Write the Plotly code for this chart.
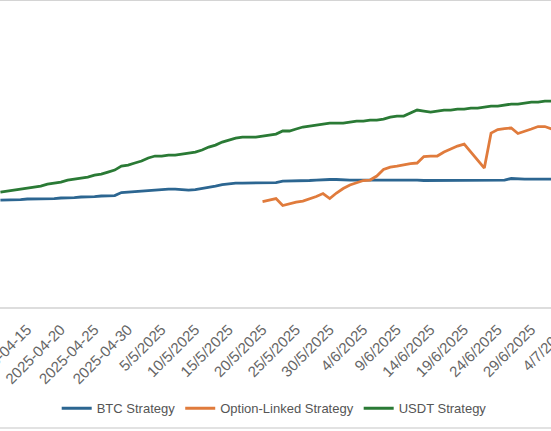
import pandas as pd
import plotly.graph_objects as go

# daily dates of the chart
dates = pd.date_range("2025-04-10", "2025-07-05", freq="D")

# cumulative return (%)
btc = [-0.07, -0.07, -0.07, 0.00, 0.07, 0.07, 0.07, 0.07, 0.13, 0.20,
       0.20, 0.26, 0.33, 0.33, 0.39, 0.46, 0.46, 0.52, 0.91, 0.98,
       1.04, 1.11, 1.11, 1.24, 1.30, 1.37, 1.37, 1.30, 1.24, 1.30,
       1.43, 1.63, 1.76, 1.95, 2.08, 2.15, 2.15, 2.15, 2.15, 2.15,
       2.15, 2.21, 2.41, 2.41, 2.41, 2.48, 2.48, 2.54, 2.61, 2.61,
       2.61, 2.54, 2.54, 2.54, 2.54, 2.61, 2.54, 2.54, 2.58, 2.54,
       2.54, 2.54, 2.54, 2.48, 2.48, 2.54, 2.54, 2.54, 2.54, 2.54,
       2.54, 2.54, 2.54, 2.54, 2.54, 2.54, 2.74, 2.67, 2.67, 2.67,
       2.67, 2.67, 2.67, 2.67, 2.67, 2.67, 2.67]

option = [None] * 39 + [
    -0.26, -0.07, 0.13, -0.78, -0.52, -0.33, -0.20, 0.07, 0.39, 0.78,
    0.13, 0.85, 1.43, 1.89, 2.21, 2.48, 2.54, 3.06, 3.91, 4.23,
    4.36, 4.56, 4.69, 4.76, 5.60, 5.67, 5.67, 6.19, 6.58, 6.97,
    7.23, None, None, 4.10, 8.66, 9.12, 9.25, 9.32, 8.60, 8.86,
    9.19, 9.51, 9.51, 9.19, 9.06, 8.93, 9.06, 9.19]

usdt = [0.98, 1.11, 1.24, 1.37, 1.50, 1.63, 1.76, 2.02, 2.15, 2.28,
        2.54, 2.67, 2.80, 2.93, 3.19, 3.32, 3.58, 3.84, 4.36, 4.50,
        4.76, 5.02, 5.41, 5.67, 5.67, 5.80, 5.80, 5.93, 6.06, 6.19,
        6.45, 6.84, 7.10, 7.49, 7.75, 8.01, 8.14, 8.14, 8.14, 8.27,
        8.40, 8.53, 8.93, 8.93, 9.19, 9.45, 9.58, 9.71, 9.84, 9.97,
        9.97, 9.97, 10.10, 10.23, 10.23, 10.36, 10.36, 10.49, 10.75, 10.88,
        10.88, 11.27, 11.66, 11.53, 11.40, 11.53, 11.66, 11.66, 11.79, 11.79,
        11.92, 11.92, 12.05, 12.18, 12.18, 12.31, 12.44, 12.44, 12.57, 12.70,
        12.70, 12.83, 12.83, 12.96, 12.96, 13.09, 13.09]

tick_dates = pd.date_range("2025-04-15", "2025-07-04", freq="5D")
tick_labels = ["2025-04-15", "2025-04-20", "2025-04-25", "2025-04-30",
               "5/5/2025", "10/5/2025", "15/5/2025", "20/5/2025", "25/5/2025",
               "30/5/2025", "4/6/2025", "9/6/2025", "14/6/2025", "19/6/2025",
               "24/6/2025", "29/6/2025", "4/7/2025"]

series = [
    ("BTC Strategy", btc, "#2c6691"),
    ("Option-Linked Strategy", option, "#e07b3c"),
    ("USDT Strategy", usdt, "#2a7a35"),
]

fig = go.Figure()
for name, vals, color in series:
    fig.add_trace(go.Scatter(
        x=dates, y=vals, name=name, mode="lines", connectgaps=True,
        line=dict(color=color, width=2.8),
    ))

fig.update_layout(
    width=600, height=431,
    margin=dict(l=0, r=0, t=0, b=124),
    paper_bgcolor="white", plot_bgcolor="white",
    font=dict(family="Liberation Sans, Arial, sans-serif", color="#666666", size=12),
    showlegend=True,
    legend=dict(orientation="h", x=0.457, xanchor="center", y=-0.33, yanchor="middle",
                font=dict(size=13, color="#555555"), itemwidth=30,
                tracegroupgap=0),
    shapes=[
        dict(type="line", xref="paper", yref="paper", x0=0, x1=1, y0=1, y1=1,
             line=dict(color="#d4d4d4", width=2)),
        dict(type="line", xref="paper", yref="paper", x0=0, x1=1, y0=-0.394, y1=-0.394,
             line=dict(color="#e2e2e2", width=2)),
    ],
)
fig.update_xaxes(
    type="date", range=["2025-04-09 22:30", "2025-07-08 05:00"],
    tickvals=tick_dates, ticktext=tick_labels, tickangle=-45,
    ticklabeloverflow="allow", ticklabelshift=-7, ticklabelstandoff=6,
    showgrid=False, showline=True, linecolor="#dddddd", linewidth=2,
    ticks="",
    tickfont=dict(size=15, color="#666666"), automargin=False,
)
fig.update_yaxes(range=[-14, 26], showgrid=False, zeroline=False,
                 showticklabels=False, automargin=False)

fig.write_html("out.html", config={"displayModeBar": False}, post_script=(
    "document.documentElement.style.overflow='hidden';"
    "document.body.style.overflow='hidden';document.body.style.margin='0';"
))
